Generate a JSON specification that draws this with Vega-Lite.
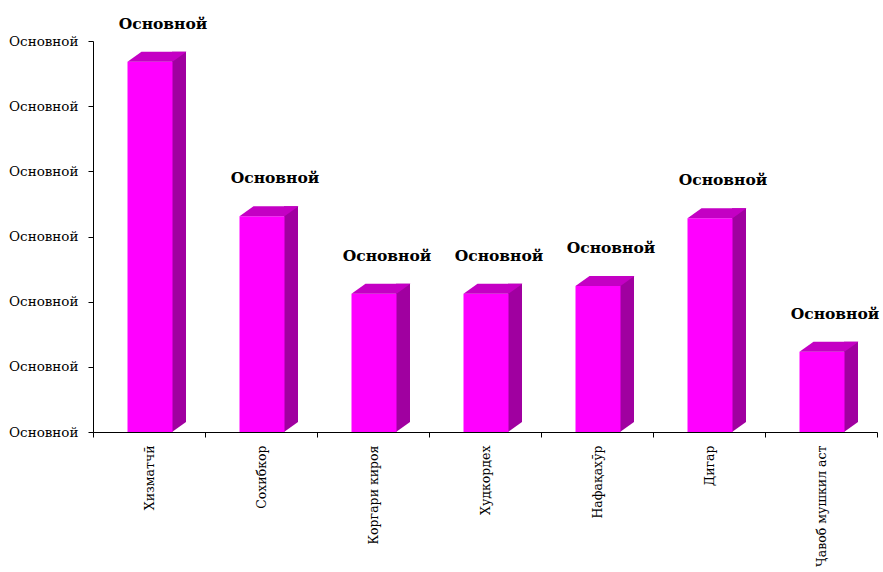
{
  "$schema": "https://vega.github.io/schema/vega-lite/v6.json",
  "width": 784,
  "height": 391,
  "autosize": "none",
  "padding": {"left": 93, "top": 41, "right": 6, "bottom": 140},
  "background": "white",
  "config": {"view": {"stroke": null}},
  "data": {
    "values": [
      {"cat": "Хизматчӣ", "v": 56.8},
      {"cat": "Сохибкор", "v": 33.1},
      {"cat": "Коргари кироя", "v": 21.2},
      {"cat": "Худкордех", "v": 21.2},
      {"cat": "Нафақахӯр", "v": 22.4},
      {"cat": "Дигар", "v": 32.8},
      {"cat": "Ҷавоб мушкил аст", "v": 12.3}
    ]
  },
  "encoding": {
    "x": {
      "field": "cat",
      "type": "nominal",
      "sort": null,
      "scale": {"paddingInner": 0, "paddingOuter": 0},
      "axis": {
        "title": null,
        "labelAngle": -90,
        "labelFont": "DejaVu Serif",
        "labelFontSize": 12.5,
        "labelColor": "black",
        "labelPadding": 8,
        "tickBand": "extent",
        "tickSize": 5,
        "tickColor": "black",
        "domainColor": "black",
        "zindex": 1
      }
    },
    "y": {
      "field": "v",
      "type": "quantitative",
      "scale": {"domain": [0, 60], "nice": false},
      "axis": {
        "title": null,
        "values": [0, 10, 20, 30, 40, 50, 60],
        "labelExpr": "'Основной'",
        "labelFont": "DejaVu Serif",
        "labelFontSize": 13.5,
        "labelColor": "black",
        "labelPadding": 10,
        "tickSize": 5,
        "tickColor": "black",
        "domainColor": "black",
        "grid": false,
        "zindex": 1
      }
    }
  },
  "layer": [
    {
      "mark": {"type": "bar", "color": "#A000A0", "width": 14, "xOffset": 30, "yOffset": -10, "y2Offset": -10}
    },
    {
      "mark": {"type": "point", "filled": true, "opacity": 1, "color": "#A000A0", "strokeWidth": 0, "size": 3600,
        "shape": "M0.7667,-0.3333 L1.2333,-0.3333 L0.7667,0 Z"},
      "encoding": {"y": {"datum": 0}}
    },
    {
      "mark": {"type": "bar", "color": "#FF00FF", "width": 45, "xOffset": 1}
    },
    {
      "mark": {"type": "point", "filled": true, "opacity": 1, "color": "#C400C4", "strokeWidth": 0, "size": 3600,
        "shape": "M-0.7167,0 L0.7833,0 L1.25,-0.3333 L-0.25,-0.3333 Z"}
    },
    {
      "mark": {"type": "text", "text": "Основной", "font": "DejaVu Serif", "fontWeight": "bold", "fontSize": 15.5, "color": "black", "dx": 14, "dy": -38, "baseline": "middle", "align": "center"}
    }
  ]
}
